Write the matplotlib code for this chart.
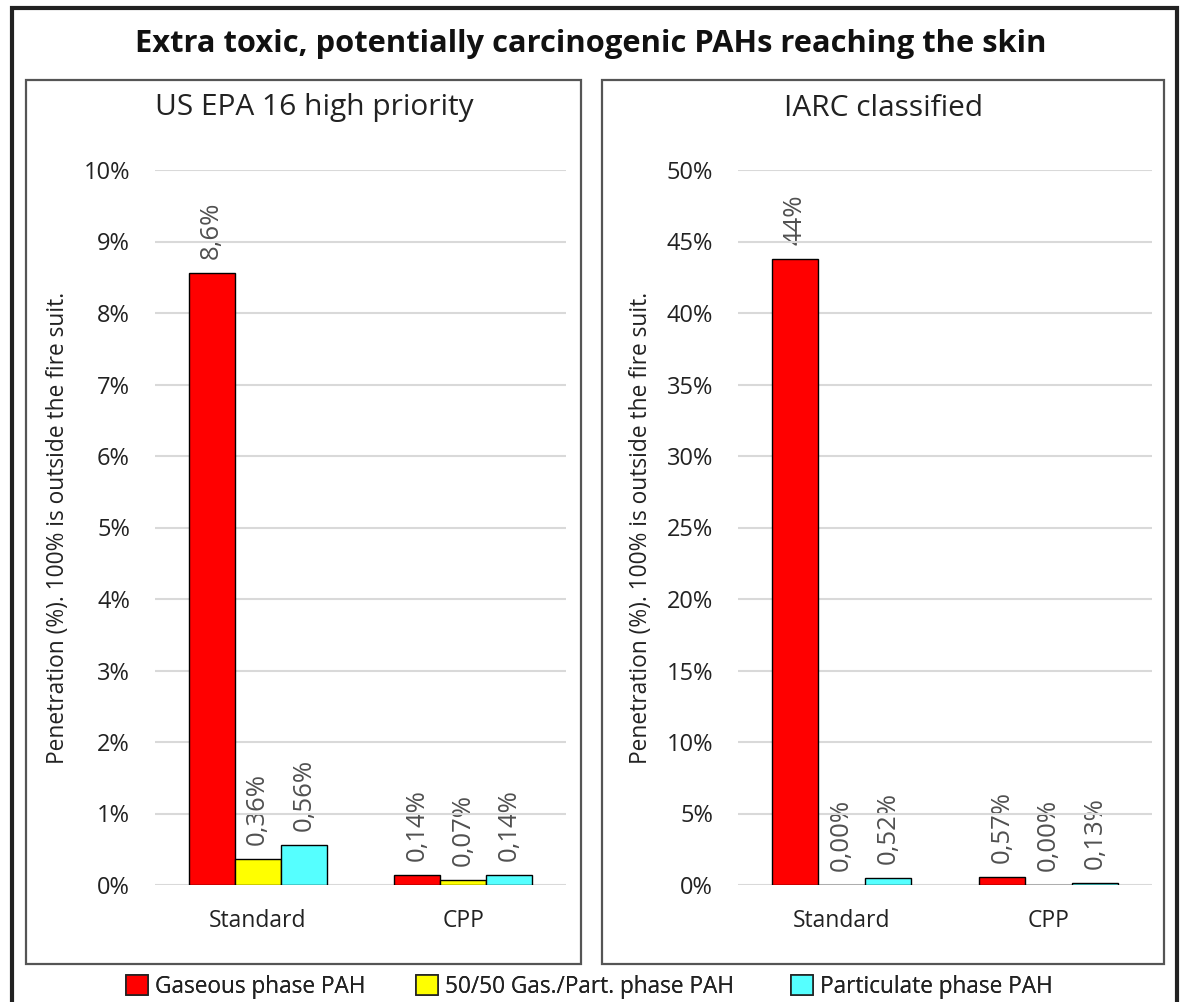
import numpy as np
import matplotlib.pyplot as plt
from matplotlib.patches import Rectangle, Patch

plt.rcParams['font.family'] = ['Open Sans', 'DejaVu Sans']

# data
categories = ['Standard', 'CPP']
series = ['Gaseous phase PAH', '50/50 Gas./Part. phase PAH', 'Particulate phase PAH']
colors = ['#ff0000', '#ffff00', '#55ffff']

epa_values = [[8.56, 0.14], [0.36, 0.07], [0.56, 0.14]]
epa_labels = [['8,6%', '0,14%'], ['0,36%', '0,07%'], ['0,56%', '0,14%']]
iarc_values = [[43.8, 0.57], [0.0, 0.0], [0.52, 0.13]]
iarc_labels = [['44%', '0,57%'], ['0,00%', '0,00%'], ['0,52%', '0,13%']]

W, H = 1182, 1002
fig = plt.figure(figsize=(W / 100, H / 100), dpi=100)


def fx(px):
    return px / W


def fy(py):
    return 1 - py / H


# frames
fig.patches.append(Rectangle((fx(12), fy(1010)), fx(1165), (1010 - 8) / H,
                             transform=fig.transFigure, fill=False, lw=3, edgecolor='#222222'))
for x0, x1 in [(26, 581), (602, 1164)]:
    fig.patches.append(Rectangle((fx(x0), fy(964)), fx(x1 - x0), (964 - 80) / H,
                                 transform=fig.transFigure, fill=False, lw=1.6, edgecolor='#555555'))

fig.text(0.5, fy(44), 'Extra toxic, potentially carcinogenic PAHs reaching the skin',
         ha='center', va='center', fontsize=22.2, fontweight='bold', color='#111111')


def draw(ax, values, labels, ymax, step, title, title_x):
    x = np.arange(len(categories))
    bw = 0.224
    for i, (vals, labs) in enumerate(zip(values, labels)):
        pos = x + (i - 1) * bw
        ax.bar(pos, vals, width=bw, color=colors[i], edgecolor='black', linewidth=1.0, zorder=3)
        for p, v, t in zip(pos, vals, labs):
            ax.annotate(t, (p, v), xytext=(0, 10), textcoords='offset points',
                        rotation=90, ha='center', va='bottom', fontsize=18.5,
                        color='#505050', zorder=2)
    ax.set_xlim(-0.5, 1.5)
    ax.set_ylim(0, ymax)
    ticks = np.arange(0, ymax + step / 2, step)
    ax.set_yticks(ticks)
    ax.set_yticklabels([f'{int(round(t))}%' for t in ticks], fontsize=17, color='#222222')
    ax.set_xticks(x)
    ax.set_xticklabels(categories, fontsize=16.5, color='#222222')
    ax.tick_params(length=0, axis='y', pad=18)
    ax.tick_params(length=0, axis='x', pad=17)
    ax.grid(axis='y', color='#d9d9d9', lw=1.5, zorder=4)
    ax.set_axisbelow(False)
    for s in ax.spines.values():
        s.set_visible(False)
    ax.set_ylabel('Penetration (%). 100% is outside the fire suit.', fontsize=16.4,
                  color='#222222', labelpad=10)
    fig.text(title_x, fy(108), title, ha='center', va='center', fontsize=21.5, color='#222222')


ax1 = fig.add_axes([fx(155), fy(885), fx(566 - 155), (885 - 170) / H])
ax2 = fig.add_axes([fx(738), fy(885), fx(1152 - 738), (885 - 170) / H])
draw(ax1, epa_values, epa_labels, 10, 1, 'US EPA 16 high priority', fx(314))
draw(ax2, iarc_values, iarc_labels, 50, 5, 'IARC classified', fx(884))

# legend: one entry per fixed slot, like the spreadsheet legend
legend_x = [126, 416, 791]
for name, c, lx in zip(series, colors, legend_x):
    leg = fig.legend([Patch(facecolor=c, edgecolor='#222222', lw=1.2)], [name],
                     loc='center left', bbox_to_anchor=(fx(lx), fy(987)),
                     frameon=False, fontsize=16.3, handlelength=0.95, handleheight=0.95,
                     handletextpad=0.35, borderpad=0, borderaxespad=0,
                     labelcolor='#222222')
    fig.add_artist(leg)

fig.savefig('out.png', dpi=100)
